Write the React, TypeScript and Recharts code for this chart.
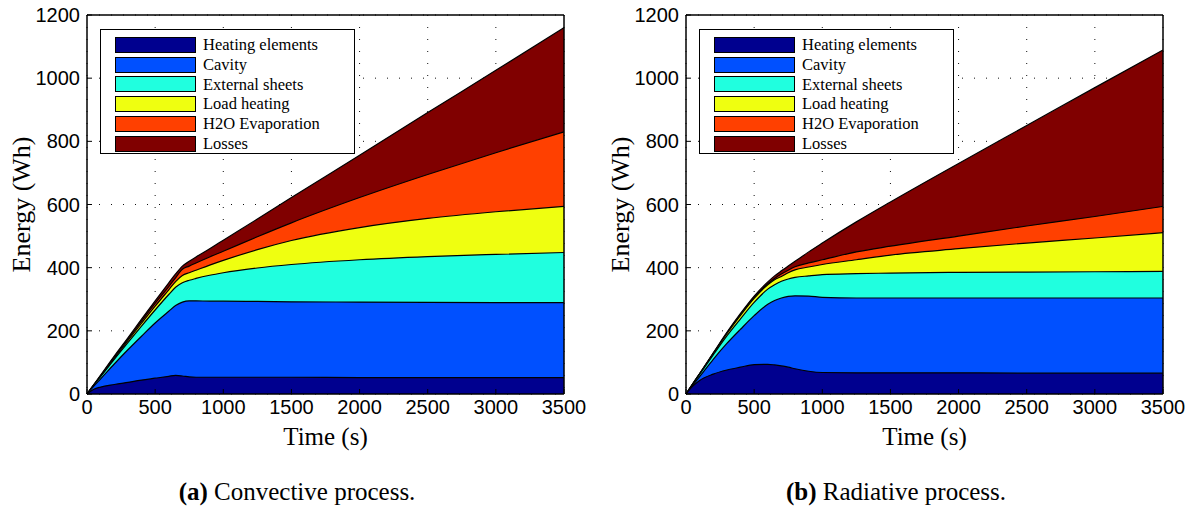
import { AreaChart, Area, XAxis, YAxis, CartesianGrid, Legend, Label } from 'recharts'

const time = [0, 50, 100, 200, 300, 400, 500, 600, 650, 700, 750, 800, 900, 1000, 1250, 1500, 2000, 2500, 3000, 3500]
const xTicks = [0, 500, 1000, 1500, 2000, 2500, 3000, 3500]
const yTicks = [0, 200, 400, 600, 800, 1000, 1200]

const seriesNames = ['Heating elements', 'Cavity', 'External sheets', 'Load heating', 'H2O Evaporation', 'Losses']
const seriesColors = ['#00008f', '#0050ff', '#20ffdf', '#efff10', '#ff4000', '#800000']

// cumulative energy (top edge of each band), convective process
const convHeating = [0, 15, 22, 30, 37, 44, 50, 56, 59, 57, 54, 53, 53, 53, 53, 53, 52, 52, 52, 52]
const convCavity = [0, 25, 48, 95, 140, 183, 225, 262, 280, 291, 295, 295, 294, 294, 293, 292, 291, 290, 289, 289]
const convSheets = [0, 28, 55, 110, 163, 215, 266, 315, 338, 352, 360, 366, 376, 384, 399, 410, 425, 435, 442, 448]
const convLoad = [0, 29, 56, 113, 169, 224, 278, 330, 356, 375, 384, 392, 408, 423, 457, 486, 527, 556, 577, 594]
const convWater = [0, 29, 58, 117, 174, 231, 287, 340, 368, 395, 405, 415, 434, 452, 498, 542, 622, 695, 764, 830]
const convTotal = [0, 30, 60, 120, 178, 237, 295, 352, 380, 405, 420, 434, 460, 487, 554, 622, 756, 891, 1025, 1160]

// cumulative energy (top edge of each band), radiative process
const radHeating = [0, 25, 43, 63, 76, 85, 93, 94, 92, 89, 85, 80, 72, 68, 67, 67, 67, 66, 66, 66]
const radCavity = [0, 28, 55, 110, 160, 205, 248, 284, 296, 304, 309, 311, 310, 306, 304, 304, 304, 304, 304, 304]
const radSheets = [0, 31, 62, 124, 184, 238, 290, 332, 346, 357, 364, 369, 374, 378, 381, 383, 385, 386, 387, 388]
const radLoad = [0, 32, 64, 128, 191, 249, 303, 346, 362, 372, 384, 393, 402, 410, 425, 440, 460, 478, 494, 511]
const radWater = [0, 32, 64, 129, 193, 251, 305, 349, 366, 380, 392, 403, 415, 425, 450, 468, 500, 532, 562, 594]
const radTotal = [0, 33, 65, 130, 195, 255, 310, 355, 374, 390, 405, 420, 450, 478, 545, 608, 730, 850, 970, 1089]

const serif = '"Liberation Serif", "Times New Roman", serif'
const sans = '"Liberation Sans", Arial, sans-serif'
const tickStyle = { fill: '#000', fontSize: 20, fontFamily: sans }

function LegendBox() {
  return (
    <div style={{ border: '1px solid #000', background: '#fff', width: 255, height: 125, padding: '5px 0 0 0', boxSizing: 'border-box' }}>
      {seriesNames.map((name, i) => (
        <div key={name} style={{ display: 'flex', alignItems: 'center', height: 19.8 }}>
          <div style={{ marginLeft: 14, width: 79, height: 14, border: '1px solid #000', background: seriesColors[i] }} />
          <span style={{ marginLeft: 7, fontFamily: serif, fontSize: 16.5, color: '#000' }}>{name}</span>
        </div>
      ))}
    </div>
  )
}

function EnergyPanel({ levels, tag, caption, left }: { levels: number[][]; tag: string; caption: string; left: number }) {
  const rows = time.map((t, i) => {
    const row: Record<string, number> = { t }
    levels.forEach((arr, k) => { row['s' + k] = arr[i] })
    return row
  })
  const order = [5, 4, 3, 2, 1, 0]
  return (
    <div style={{ position: 'absolute', left, top: 0, width: 598, height: 512 }}>
      <AreaChart width={598} height={460} data={rows} margin={{ top: 15, right: 34, bottom: 0, left: 0 }}>
        <CartesianGrid stroke="#111" strokeDasharray="1 11" />
        <XAxis
          dataKey="t"
          type="number"
          domain={[0, 3500]}
          ticks={xTicks}
          interval={0}
          height={66}
          tick={tickStyle}
          tickSize={-5}
          tickMargin={11}
          axisLine={{ stroke: '#000', strokeWidth: 1.5 }}
          tickLine={{ stroke: '#000' }}
        >
          <Label
            content={({ viewBox }: any) => (
              <text x={viewBox.x + viewBox.width / 2} y={viewBox.y + 51} textAnchor="middle" fontFamily={serif} fontSize={25} fill="#000">
                Time (s)
              </text>
            )}
          />
        </XAxis>
        <XAxis
          xAxisId="top"
          orientation="top"
          type="number"
          domain={[0, 3500]}
          allowDataOverflow
          ticks={xTicks}
          interval={0}
          height={1}
          mirror
          tick={false}
          tickSize={5}
          axisLine={{ stroke: '#000', strokeWidth: 1.5 }}
          tickLine={{ stroke: '#000' }}
        />
        <YAxis
          type="number"
          domain={[0, 1200]}
          ticks={yTicks}
          interval={0}
          width={87}
          tick={tickStyle}
          tickSize={-5}
          tickMargin={12}
          axisLine={{ stroke: '#000', strokeWidth: 1.5 }}
          tickLine={{ stroke: '#000' }}
        >
          <Label
            content={({ viewBox }: any) => {
              const cx = viewBox.x + 21
              const cy = viewBox.y + viewBox.height / 2
              return (
                <text x={cx} y={cy} dy="0.35em" textAnchor="middle" transform={`rotate(-90 ${cx} ${cy})`} fontFamily={serif} fontSize={26} fill="#000">
                  Energy (Wh)
                </text>
              )
            }}
          />
        </YAxis>
        <YAxis
          yAxisId="right"
          orientation="right"
          type="number"
          domain={[0, 1200]}
          allowDataOverflow
          ticks={yTicks}
          interval={0}
          width={1}
          mirror
          tick={false}
          tickSize={5}
          axisLine={{ stroke: '#000', strokeWidth: 1.5 }}
          tickLine={{ stroke: '#000' }}
        />
        {order.map((k) => (
          <Area
            key={k}
            type="monotone"
            dataKey={'s' + k}
            name={seriesNames[k]}
            fill={seriesColors[k]}
            fillOpacity={1}
            stroke="#000"
            strokeWidth={1.2}
            dot={false}
            activeDot={false}
            isAnimationActive={false}
          />
        ))}
        <Legend
          layout="vertical"
          align="center"
          verticalAlign="middle"
          content={() => <LegendBox />}
          wrapperStyle={{ left: 100, top: 29, width: 255 }}
        />
      </AreaChart>
      <div style={{ position: 'absolute', left: 0, top: 478, width: 594, textAlign: 'center', fontFamily: serif, fontSize: 25, color: '#000' }}>
        <b>{tag}</b> {caption}
      </div>
    </div>
  )
}

export default function App() {
  return (
    <div style={{ position: 'absolute', left: 0, top: 0, width: 1196, height: 512, background: '#fff' }}>
      <EnergyPanel levels={[convHeating, convCavity, convSheets, convLoad, convWater, convTotal]} tag="(a)" caption="Convective process." left={0} />
      <EnergyPanel levels={[radHeating, radCavity, radSheets, radLoad, radWater, radTotal]} tag="(b)" caption="Radiative process." left={599} />
    </div>
  )
}
